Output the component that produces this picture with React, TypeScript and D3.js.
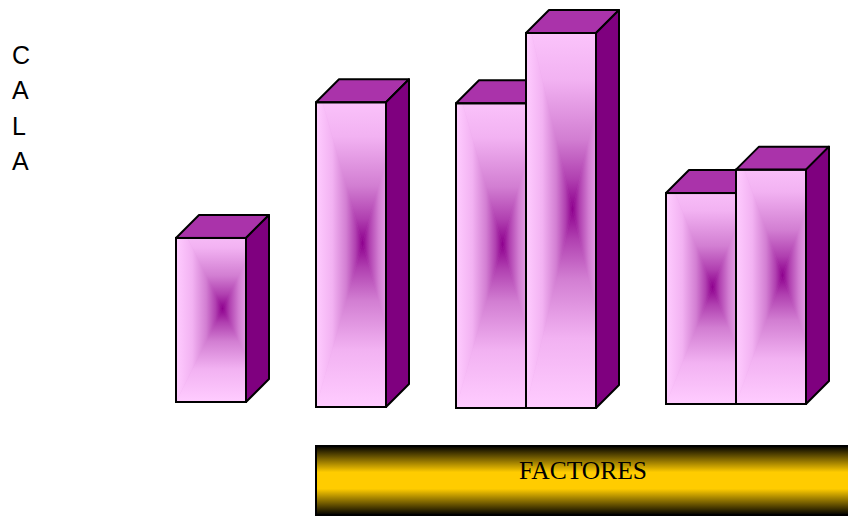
import React from "react";
import * as d3 from "d3";

// ---- data ----
const categories = ["Factor 1", "Factor 2", "Factor 3", "Factor 4"];
const seriesA: (number | null)[] = [7, 13, 13, 9];
const seriesB: (number | null)[] = [null, null, 16, 10];
const yAxisLabel = "CALA";
const xAxisLabel = "FACTORES";

// ---- layout (not data) ----
const W = 848;
const H = 516;
const slotOfCategory = [0, 2, 4, 7]; // first slot used by each category
const baselineShift = [-6, -1, 0, -4]; // small per-category baseline offsets in the original
const DEPTH = 23;

const x = d3.scaleLinear().domain([0, 9]).range([176, 806]);
const y = d3.scaleLinear().domain([0, 16]).range([408, 33]);

type Bar = { key: string; x0: number; x1: number; top: number; bottom: number };

const bars: Bar[] = [];
categories.forEach((c, i) => {
  const vals = [seriesA[i], seriesB[i]];
  vals.forEach((v, j) => {
    if (v == null) return;
    const s = slotOfCategory[i] + j;
    bars.push({
      key: `${i}-${j}`,
      x0: x(s),
      x1: x(s + 1),
      top: y(v) + baselineShift[i],
      bottom: y(0) + baselineShift[i],
    });
  });
});

const STOPS = [
  [0, "#FFCCFF"],
  [0.35, "#F2B2F2"],
  [0.65, "#D27ED2"],
  [0.85, "#B040B0"],
  [1, "#8E008E"],
];
const TOP = "#AA33AA";
const SIDE = "#7F007F";

function BarShape({ b }: { b: Bar }) {
  const { x0, x1, top, bottom, key } = b;
  const bx0 = x0,
    bx1 = x1 + DEPTH,
    by0 = top - DEPTH,
    by1 = bottom;
  const cx = (bx0 + bx1) / 2;
  const cy = (by0 + by1) / 2;
  const tris = [
    { id: "t", pts: [[bx0, by0], [bx1, by0], [cx, cy]], g: [cx, by0, cx, cy] },
    { id: "b", pts: [[bx0, by1], [bx1, by1], [cx, cy]], g: [cx, by1, cx, cy] },
    { id: "l", pts: [[bx0, by0], [bx0, by1], [cx, cy]], g: [bx0, cy, cx, cy] },
    { id: "r", pts: [[bx1, by0], [bx1, by1], [cx, cy]], g: [bx1, cy, cx, cy] },
  ];
  const clipId = `clip-${key}`;
  return (
    <g>
      <defs>
        <clipPath id={clipId}>
          <rect x={x0} y={top} width={x1 - x0} height={bottom - top} />
        </clipPath>
        {tris.map((t) => (
          <linearGradient
            key={t.id}
            id={`g-${key}-${t.id}`}
            gradientUnits="userSpaceOnUse"
            x1={t.g[0]}
            y1={t.g[1]}
            x2={t.g[2]}
            y2={t.g[3]}
          >
            {STOPS.map(([o, c]) => (
              <stop key={String(o)} offset={o as number} stopColor={c as string} />
            ))}
          </linearGradient>
        ))}
      </defs>
      <g clipPath={`url(#${clipId})`}>
        <rect x={x0} y={top} width={x1 - x0} height={bottom - top} fill="#E090E0" />
        {tris.map((t) => (
          <polygon
            key={t.id}
            points={t.pts.map((p) => p.join(",")).join(" ")}
            fill={`url(#g-${key}-${t.id})`}
            stroke={`url(#g-${key}-${t.id})`}
            strokeWidth={0.6}
          />
        ))}
      </g>
      <polygon
        points={`${x0},${top} ${x0 + DEPTH},${top - DEPTH} ${x1 + DEPTH},${top - DEPTH} ${x1},${top}`}
        fill={TOP}
        stroke="#000"
        strokeWidth={2}
        strokeLinejoin="round"
      />
      <polygon
        points={`${x1},${top} ${x1 + DEPTH},${top - DEPTH} ${x1 + DEPTH},${bottom - DEPTH} ${x1},${bottom}`}
        fill={SIDE}
        stroke="#000"
        strokeWidth={2}
        strokeLinejoin="round"
      />
      <rect
        x={x0}
        y={top}
        width={x1 - x0}
        height={bottom - top}
        fill="none"
        stroke="#000"
        strokeWidth={2}
      />
    </g>
  );
}

export default function App() {
  const letters = yAxisLabel.split("");
  return (
    <div style={{ position: "fixed", left: 0, top: 0, width: W, height: H, background: "#fff" }}>
      <svg width={W} height={H} viewBox={`0 0 ${W} ${H}`} style={{ display: "block" }}>
        <defs>
          <linearGradient id="gold" x1="0" y1="0" x2="0" y2="1">
            <stop offset="0" stopColor="#000000" />
            <stop offset="0.38" stopColor="#FFCC00" />
            <stop offset="0.62" stopColor="#FFCC00" />
            <stop offset="1" stopColor="#000000" />
          </linearGradient>
        </defs>
        {letters.map((ch, i) => (
          <text
            key={i}
            x={12}
            y={64 + i * 35.3}
            fontFamily="Liberation Sans, Arial, sans-serif"
            fontSize={25}
            fill="#000"
          >
            {ch}
          </text>
        ))}
        {bars.map((b) => (
          <BarShape key={b.key} b={b} />
        ))}
        <rect x={316} y={446} width={600} height={69} fill="url(#gold)" stroke="#000" strokeWidth={2} />
        <text
          x={583}
          y={479}
          textAnchor="middle"
          fontFamily="Liberation Serif, Times New Roman, serif"
          fontSize={25.5}
          fill="#000"
        >
          {xAxisLabel}
        </text>
      </svg>
    </div>
  );
}
